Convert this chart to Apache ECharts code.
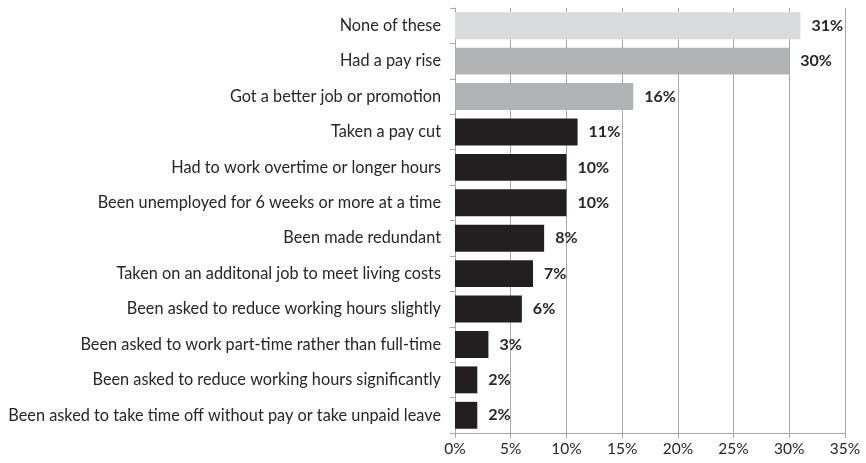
<!DOCTYPE html>
<html><head><meta charset="utf-8">
<script src="https://cdn.jsdelivr.net/npm/echarts@6/dist/echarts.min.js"></script>
<style>html,body{margin:0;padding:0;background:#fff}#c{width:866px;height:463px}</style>
</head><body><div id="c"></div>
<script>
const categories = [
  "None of these",
  "Had a pay rise",
  "Got a better job or promotion",
  "Taken a pay cut",
  "Had to work overtime or longer hours",
  "Been unemployed for 6 weeks or more at a time",
  "Been made redundant",
  "Taken on an additonal job to meet living costs",
  "Been asked to reduce working hours slightly",
  "Been asked to work part-time rather than full-time",
  "Been asked to reduce working hours significantly",
  "Been asked to take time off without pay or take unpaid leave"
];
const values = [31, 30, 16, 11, 10, 10, 8, 7, 6, 3, 2, 2];
const xTicks = [0, 5, 10, 15, 20, 25, 30, 35];

function barColor(i) {
  if (i === 0) return '#d9dadb';
  if (i <= 2) return '#b2b3b5';
  return '#231f20';
}
const font = 'Lato, sans-serif';
const chart = echarts.init(document.getElementById('c'));
chart.setOption({
  animation: false,
  grid: { left: 455, right: 21, top: 8, bottom: 30, containLabel: false },
  xAxis: {
    type: 'value', min: xTicks[0], max: xTicks[xTicks.length - 1], interval: 5,
    axisLine: { show: true, lineStyle: { color: '#a6a6a6', width: 1 } },
    axisTick: { show: true, length: 5, lineStyle: { color: '#a6a6a6' } },
    splitLine: { show: true, lineStyle: { color: '#a6a6a6', width: 1 } },
    axisLabel: { formatter: v => v + '%', color: '#262626', fontSize: 15.5, fontFamily: font, margin: 8 }
  },
  yAxis: {
    type: 'category', data: categories, inverse: true,
    axisLine: { show: true, lineStyle: { color: '#a6a6a6', width: 1 } },
    axisTick: { show: true, length: 5, lineStyle: { color: '#a6a6a6' } },
    axisLabel: { color: '#262626', fontSize: 16.3, fontFamily: font, margin: 14 }
  },
  series: [{
    type: 'bar',
    data: values.map((v, i) => ({ value: v, itemStyle: { color: barColor(i) } })),
    barCategoryGap: '24%',
    label: {
      show: true, position: 'right', distance: 11,
      formatter: p => p.value + '%',
      color: '#262626', fontWeight: 'bold', fontSize: 16, fontFamily: font
    }
  }]
});
</script></body></html>
